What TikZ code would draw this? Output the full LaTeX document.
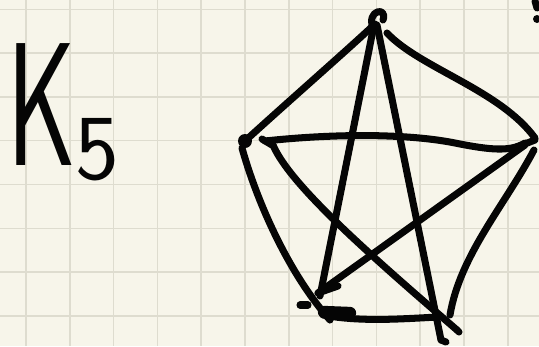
\documentclass[tikz,border=0pt]{standalone}
\usepackage{tikz}
\usepackage{graphicx}
\usetikzlibrary{calc}
\definecolor{paper}{HTML}{F7F5EA}
\definecolor{gridgray}{HTML}{DEDCCF}
\definecolor{inkblack}{HTML}{050505}

\begin{document}
\begin{tikzpicture}[
    x=0.02cm, y=-0.02cm,
    ink/.style={draw=inkblack, line width=4pt, line cap=round, line join=round},
    blob/.style={fill=inkblack},
    gridline/.style={draw=gridgray, line width=0.9pt},
    title/.style={anchor=base west, inner sep=0pt, text=inkblack, font=\sffamily}
  ]
    \useasboundingbox (0,0) rectangle (539,346);
    \fill[paper] (0,0) rectangle (539,346);

    % --- squared paper ---
    \foreach \i in {0,...,11}
      \draw[gridline] (26+43.8*\i,0) -- (26+43.8*\i,346);
    \foreach \j in {0,...,7}
      \draw[gridline] (0,9.3+43.8*\j) -- (539,9.3+43.8*\j);

    % --- title ---
    \node[title] (name) at (7,165)
      {\fontsize{100}{100}\selectfont\scalebox{0.6}[1]{K}\raisebox{-8.5pt}{\fontsize{53}{53}\selectfont 5}};

    % --- vertices ---
    \coordinate (vtop)   at (375,24);
    \coordinate (vleft)  at (245,141);
    \coordinate (vright) at (529,143);
    \coordinate (vbl)    at (320,296);
    \coordinate (vbr)    at (440,318);

    % --- outer cycle ---
    \draw[ink] (vtop) .. controls (345,52) and (290,100) .. (vleft);
    \draw[ink] ([shift={(12,9)}]vtop) .. controls (420,68) and (500,90) .. ([shift={(6,-5)}]vright);
    \draw[ink] ([shift={(-3,7)}]vleft) .. controls (258,205) and (290,275) .. ([shift={(10,24)}]vbl);
    \draw[ink] ([shift={(3,19)}]vbl) .. controls (360,322) and (400,319) .. ([shift={(-2,-1)}]vbr);
    \draw[ink] ([shift={(5,7)}]vright) .. controls (505,205) and (460,255) .. ([shift={(10,-3)}]vbr);

    % --- inner star ---
    \draw[ink] ([shift={(-1,1)}]vtop) -- (vbl);
    \draw[ink] ([shift={(2,1)}]vtop) -- ([shift={(1,22)}]vbr);
    \draw[ink] ([shift={(20,0)}]vleft) .. controls (340,133) and (410,134) .. (455,143)
               .. controls (490,150) and (510,152) .. ([shift={(-4,0)}]vright);
    \draw[ink] ([shift={(28,4)}]vleft) .. controls (290,185) and (370,255) .. ([shift={(17,12)}]vbr);
    \draw[ink] ([shift={(-4,2)}]vright) -- ([shift={(-2,-3)}]vbl);

    % --- marks at the vertices ---
    \draw[ink] ([shift={(-2,4)}]vtop) .. controls (366,10) and (388,6) .. ([shift={(8,-4)}]vtop);
    \fill[blob] (vleft) circle (7);
    \draw[ink] ([shift={(17,-2)}]vleft) -- ([shift={(27,4)}]vleft);
    \draw[ink] ([shift={(-12,4)}]vright) -- ([shift={(6,-3)}]vright);
    \draw[ink] ([shift={(-2,-3)}]vbl) -- ([shift={(18,-10)}]vbl);
    \draw[ink] ([shift={(-20,9)}]vbl) -- ([shift={(-12,9)}]vbl);
    \draw[ink, line width=7pt] ([shift={(4,16)}]vbl) -- ([shift={(30,17)}]vbl);
    \draw[ink] ([shift={(1,22)}]vbr) -- ([shift={(6,24)}]vbr);
    \draw[ink] ([shift={(17,12)}]vbr) -- ([shift={(19,14)}]vbr);

    % --- stray dot at the edge ---
    \draw[ink] (535,1) -- (537,8);
    \fill[blob] (537,19) circle (4);
\end{tikzpicture}
\end{document}
